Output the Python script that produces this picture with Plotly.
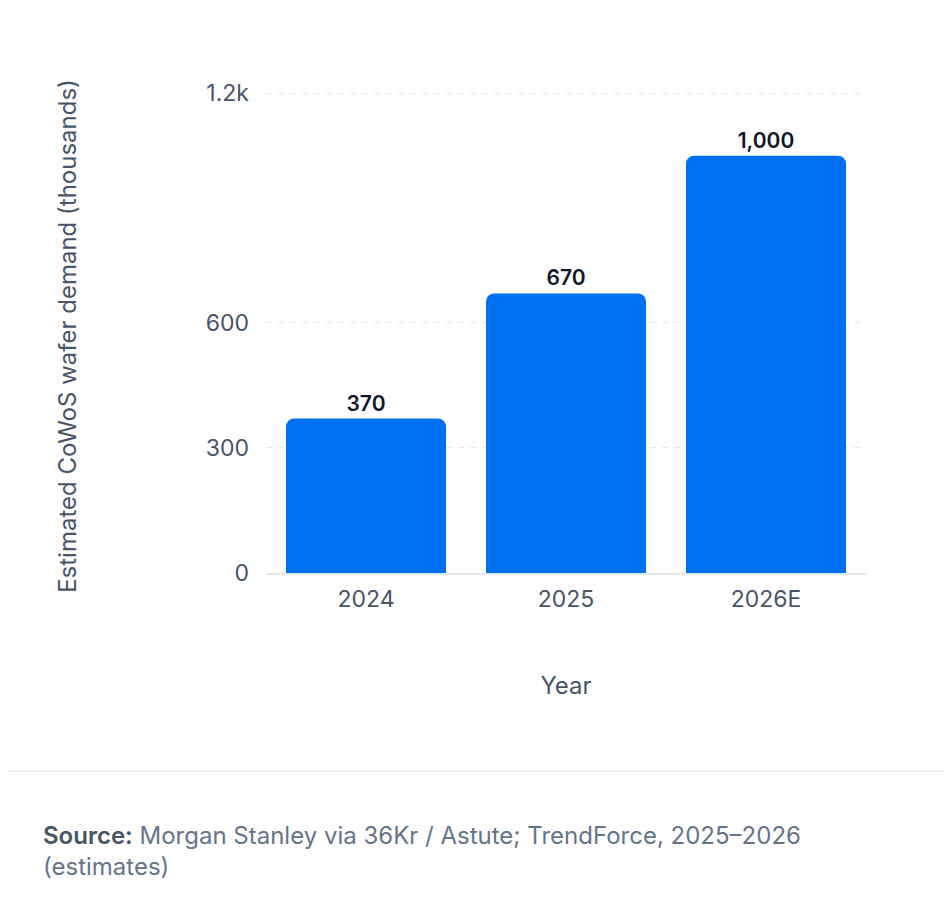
import plotly.graph_objects as go

# --- datos ---
ANIOS = ['2024', '2025', '2026E']
DEMANDA_MILES = [370, 670, 1000]
TICKS_Y = [0, 300, 600, 1150]
TICKS_Y_TEXTO = ['0', '300', '600', '1.2k']

AZUL = '#0070F3'
FUENTE = 'Inter'

fig = go.Figure()

fig.add_trace(go.Bar(
    x=ANIOS,
    y=DEMANDA_MILES,
    marker=dict(color=AZUL, line=dict(width=0)),
    texttemplate='%{y:,}',
    textposition='outside',
    textfont=dict(family=FUENTE, size=21, color='#0F172A', weight=600),
    cliponaxis=False,
    hoverinfo='skip',
))

fig.update_layout(
    width=944,
    height=892,
    margin=dict(l=258, r=86, t=81, b=327),
    paper_bgcolor='white',
    plot_bgcolor='white',
    font=dict(family=FUENTE, color='#475569'),
    bargap=0.2,
    barcornerradius=8,
    showlegend=False,
    xaxis=dict(
        showgrid=False,
        showline=True,
        linecolor='#E2E8F0',
        linewidth=2,
        ticks='',
        ticklabelstandoff=4,
        tickfont=dict(size=23, color='#475569'),
        title=dict(text='Year', font=dict(size=24, color='#475569'), standoff=66),
    ),
    yaxis=dict(
        range=[0, 1160],
        tickvals=TICKS_Y,
        ticktext=TICKS_Y_TEXTO,
        showgrid=True,
        gridcolor='#E6EAF0',
        griddash='6px,6px',
        gridwidth=1,
        zeroline=False,
        showline=False,
        ticks='',
        ticklabelstandoff=16,
        tickfont=dict(size=23, color='#475569'),
    ),
)

# titulo del eje Y
fig.add_annotation(
    text='Estimated CoWoS wafer demand (thousands)',
    textangle=-90,
    xref='paper', yref='paper',
    x=-0.33, y=0.49,
    xanchor='center', yanchor='middle',
    showarrow=False,
    font=dict(size=24, color='#475569'),
)

# linea separadora
fig.add_shape(
    type='line', xref='paper', yref='paper',
    x0=-0.5, x1=1.2, y0=-0.409, y1=-0.409,
    line=dict(color='#EEF2F6', width=2),
)

# fuente
fig.add_annotation(
    text=('<span style="color:#475569;font-weight:600">Source:</span> '
          'Morgan Stanley via 36Kr / Astute; TrendForce, 2025\u20132026<br>(estimates)'),
    xref='paper', yref='paper',
    x=-0.375, y=-0.508,
    xanchor='left', yanchor='top',
    align='left',
    showarrow=False,
    font=dict(size=24, color='#64748B'),
)

fig.write_html('out.html')
